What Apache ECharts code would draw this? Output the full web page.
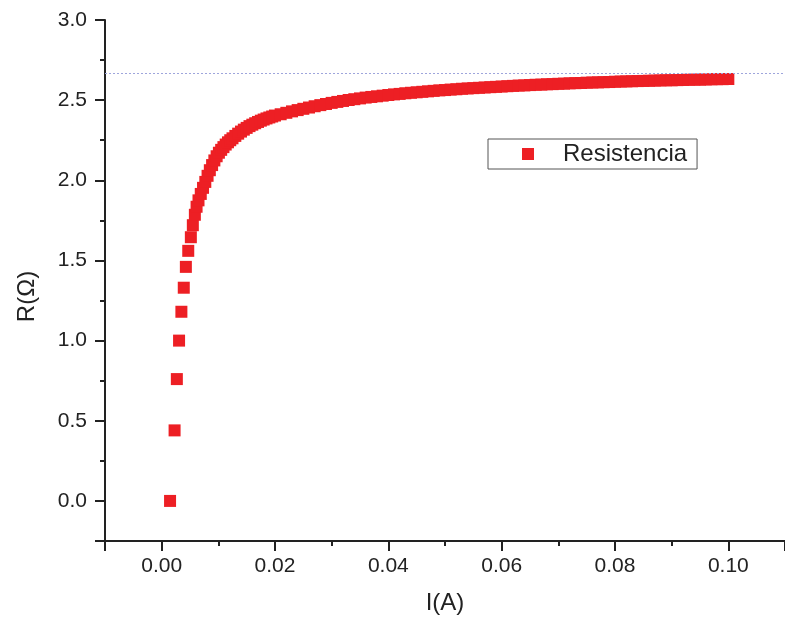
<!DOCTYPE html>
<html>
<head>
<meta charset="utf-8">
<script src="https://cdn.jsdelivr.net/npm/echarts@6/dist/echarts.min.js"></script>
<style>
html,body{margin:0;padding:0;background:#fff;}
#chart{width:785px;height:621px;}
</style>
</head>
<body>
<div id="chart"></div>
<script>
// Data
const currentA = [
  0.00148, 0.00228, 0.00268, 0.00307, 0.00348, 0.0039, 0.00427, 0.00469, 0.00515, 0.0055,
  0.00586, 0.00616, 0.0065, 0.0069, 0.0073, 0.0077, 0.0081, 0.0085, 0.0089, 0.0093,
  0.0097, 0.0101, 0.0105, 0.0109, 0.0113, 0.0117, 0.0121, 0.0125, 0.0130, 0.0135,
  0.0140, 0.0145, 0.0150, 0.0155, 0.0160, 0.0165, 0.0170, 0.0175, 0.0180, 0.0185,
  0.0190, 0.0195, 0.0200, 0.021, 0.022, 0.023, 0.024, 0.025, 0.026, 0.027,
  0.028, 0.029, 0.030, 0.031, 0.032, 0.033, 0.034, 0.035, 0.036, 0.037,
  0.038, 0.039, 0.040, 0.041, 0.042, 0.043, 0.044, 0.045, 0.046, 0.047,
  0.048, 0.049, 0.050, 0.051, 0.052, 0.053, 0.054, 0.055, 0.056, 0.057,
  0.058, 0.059, 0.060, 0.061, 0.062, 0.063, 0.064, 0.065, 0.066, 0.067,
  0.068, 0.069, 0.070, 0.071, 0.072, 0.073, 0.074, 0.075, 0.076, 0.077,
  0.078, 0.079, 0.080, 0.081, 0.082, 0.083, 0.084, 0.085, 0.086, 0.087,
  0.088, 0.089, 0.090, 0.091, 0.092, 0.093, 0.094, 0.095, 0.096, 0.097,
  0.098, 0.099, 0.100
];
const resistance = [
  0.00, 0.44, 0.76, 1.00, 1.18, 1.33, 1.46, 1.56, 1.645, 1.72,
  1.785, 1.835, 1.875, 1.915, 1.953, 1.99, 2.028, 2.063, 2.095, 2.124,
  2.15, 2.172, 2.19, 2.207, 2.223, 2.237, 2.25, 2.262, 2.277, 2.291,
  2.304, 2.316, 2.327, 2.338, 2.347, 2.356, 2.364, 2.372, 2.379, 2.386,
  2.392, 2.398, 2.404, 2.412, 2.421, 2.430, 2.438, 2.446, 2.454, 2.462,
  2.469, 2.476, 2.483, 2.489, 2.495, 2.501, 2.506, 2.511, 2.516, 2.520,
  2.524, 2.528, 2.532, 2.536, 2.539, 2.543, 2.546, 2.549, 2.552, 2.555,
  2.558, 2.561, 2.563, 2.566, 2.568, 2.571, 2.573, 2.575, 2.577, 2.579,
  2.581, 2.583, 2.585, 2.587, 2.589, 2.591, 2.592, 2.594, 2.596, 2.597,
  2.599, 2.600, 2.602, 2.603, 2.605, 2.606, 2.607, 2.609, 2.610, 2.611,
  2.612, 2.613, 2.615, 2.616, 2.617, 2.618, 2.619, 2.620, 2.621, 2.622,
  2.623, 2.624, 2.624, 2.625, 2.626, 2.627, 2.628, 2.628, 2.629, 2.630,
  2.631, 2.631, 2.632
];
const asymptoteR = 2.666;
const seriesName = 'Resistencia';
const xTitle = 'I(A)';
const yTitle = 'R(\u03A9)';

const FONT = "'Liberation Sans', Arial, sans-serif";
const INK = '#222';

const chart = echarts.init(document.getElementById('chart'), null, {renderer: 'canvas'});
const points = currentA.map((x, i) => [x, resistance[i]]);

chart.setOption({
  animation: false,
  backgroundColor: '#fff',
  grid: {left: 105, right: 0, top: 20, bottom: 80, containLabel: false},
  legend: {
    left: 488, top: 139,
    padding: [3, 10, 3, 34],
    borderColor: '#555', borderWidth: 1,
    itemWidth: 12, itemHeight: 12,
    icon: 'rect',
    textStyle: {fontFamily: FONT, fontSize: 24, color: INK, padding: [0, 0, 0, 24]},
    data: [seriesName]
  },
  xAxis: {
    type: 'value',
    min: -0.01, max: 0.11,
    splitNumber: 6,
    splitLine: {show: false},
    axisLine: {show: true, onZero: false, lineStyle: {color: INK, width: 2}},
    axisTick: {show: true, inside: false, length: 10, lineStyle: {color: INK, width: 2}},
    minorTick: {show: true, splitNumber: 2, length: 5, lineStyle: {color: INK, width: 2}},
    axisLabel: {
      margin: 15, showMinLabel: false, showMaxLabel: false,
      fontFamily: FONT, fontSize: 21, color: INK,
      formatter: v => v.toFixed(2)
    },
    name: xTitle, nameLocation: 'middle', nameGap: 50,
    nameTextStyle: {fontFamily: FONT, fontSize: 24, color: INK}
  },
  yAxis: {
    type: 'value',
    min: -0.25, max: 3.0,
    splitNumber: 6,
    splitLine: {show: false},
    axisLine: {show: true, onZero: false, lineStyle: {color: INK, width: 2}},
    axisTick: {show: true, inside: false, length: 10, lineStyle: {color: INK, width: 2}},
    minorTick: {show: true, splitNumber: 2, length: 5, lineStyle: {color: INK, width: 2}},
    axisLabel: {
      margin: 18, showMinLabel: false,
      fontFamily: FONT, fontSize: 21, color: INK,
      formatter: v => v.toFixed(1)
    },
    name: yTitle, nameLocation: 'middle', nameGap: 66,
    nameTextStyle: {fontFamily: FONT, fontSize: 24, color: INK, padding: [0, 32, 0, 0]}
  },
  series: [{
    name: seriesName,
    type: 'scatter',
    symbol: 'rect',
    symbolSize: 12,
    itemStyle: {color: '#ed1f24', opacity: 1},
    emphasis: {disabled: true},
    data: points,
    markLine: {
      silent: true,
      symbol: 'none',
      label: {show: false},
      lineStyle: {type: [2, 2], color: '#9ea5dc', width: 1, opacity: 1},
      emphasis: {disabled: true},
      data: [{yAxis: asymptoteR}]
    },
    z: 3
  }]
});
</script>
</body>
</html>
